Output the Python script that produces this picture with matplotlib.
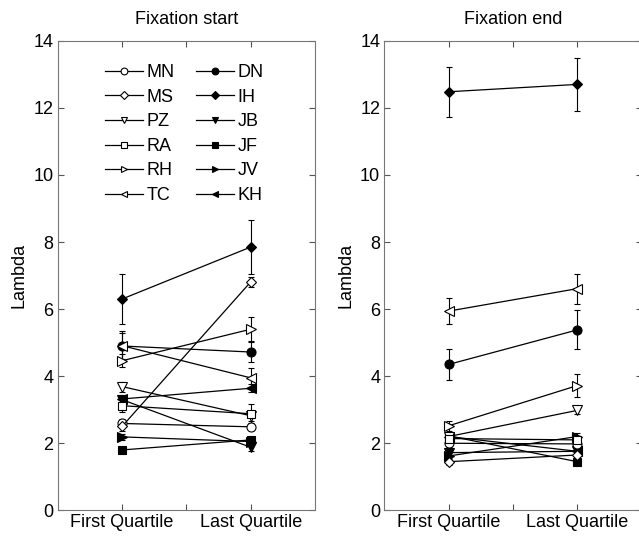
import numpy as np
import matplotlib
matplotlib.use("Agg")
import matplotlib.pyplot as plt

plt.rcParams['font.family'] = ['Liberation Sans', 'DejaVu Sans']

# subjects: open markers first, then filled markers
subjects = ['MN', 'MS', 'PZ', 'RA', 'RH', 'TC', 'DN', 'IH', 'JB', 'JF', 'JV', 'KH']
markers = ['o', 'D', 'v', 's', '>', '<', 'o', 'D', 'v', 's', '>', '<']
filled = [False] * 6 + [True] * 6
quartiles = ['First Quartile', 'Last Quartile']

# Fixation start: [first, last]
start_vals = {
    'MN': [2.59, 2.49], 'MS': [2.50, 6.81], 'PZ': [3.69, 2.82], 'RA': [3.12, 2.88],
    'RH': [4.46, 5.40], 'TC': [4.91, 3.95], 'DN': [4.90, 4.72], 'IH': [6.30, 7.85],
    'JB': [3.30, 1.88], 'JF': [1.80, 2.10], 'JV': [2.19, 2.05], 'KH': [3.32, 3.64],
}
start_err = {
    'MN': [0.12, 0.10], 'MS': [0.12, 0.15], 'PZ': [0.15, 0.15], 'RA': [0.18, 0.30],
    'RH': [0.20, 0.35], 'TC': [0.45, 0.30], 'DN': [0.40, 0.30], 'IH': [0.75, 0.80],
    'JB': [0.12, 0.10], 'JF': [0.10, 0.10], 'JV': [0.10, 0.10], 'KH': [0.12, 0.12],
}

# Fixation end: [first, last]
end_vals = {
    'MN': [2.00, 1.98], 'MS': [1.45, 1.65], 'PZ': [2.20, 2.98], 'RA': [2.14, 2.10],
    'RH': [2.52, 3.72], 'TC': [5.94, 6.61], 'DN': [4.35, 5.38], 'IH': [12.48, 12.70],
    'JB': [1.72, 1.76], 'JF': [2.22, 1.45], 'JV': [1.62, 2.20], 'KH': [2.20, 1.76],
}
end_err = {
    'MN': [0.10, 0.10], 'MS': [0.10, 0.10], 'PZ': [0.10, 0.12], 'RA': [0.10, 0.12],
    'RH': [0.15, 0.33], 'TC': [0.38, 0.45], 'DN': [0.45, 0.58], 'IH': [0.75, 0.80],
    'JB': [0.10, 0.10], 'JF': [0.10, 0.10], 'JV': [0.10, 0.10], 'KH': [0.10, 0.10],
}

yticks = [0, 2, 4, 6, 8, 10, 12, 14]


def draw_panel(ax, vals, errs, title, legend=False):
    x = [1, 2]
    handles = []
    for name, m, f in zip(subjects, markers, filled):
        fc = 'black' if f else 'white'
        ax.errorbar(x, vals[name], yerr=errs[name], fmt='none', ecolor='black',
                    elinewidth=0.8, capsize=2, capthick=0.8, zorder=2)
        # open markers drawn on top of filled ones
        h, = ax.plot(x, vals[name], color='black', linewidth=0.9, marker=m,
                     markersize=6.5 if m not in ('D', 's') else 5.5,
                     markerfacecolor=fc, markeredgecolor='black',
                     markeredgewidth=0.8, label=name, zorder=3 if f else 4)
        handles.append(h)
    ax.set_xlim(0.5, 2.5)
    ax.set_ylim(0, 14)
    ax.set_xticks([1, 1.5, 2])
    ax.set_xticklabels([quartiles[0], '', quartiles[1]], fontsize=13)
    ax.set_yticks(yticks)
    ax.set_yticklabels([str(t) for t in yticks], fontsize=13)
    ax.tick_params(direction='in', top=True, right=True, length=4, width=0.8,
                   color='#555555', pad=3)
    for s in ax.spines.values():
        s.set_color('#777777')
        s.set_linewidth(0.8)
    ax.set_ylabel('Lambda', fontsize=13, labelpad=4)
    ax.set_title(title, fontsize=13, pad=12)
    if legend:
        ax.legend(handles=handles, ncol=2, loc='upper left',
                  bbox_to_anchor=(0.12, 0.985), frameon=False, fontsize=13,
                  markerscale=0.75, handlelength=2.1, handletextpad=0.2,
                  columnspacing=1.2, labelspacing=0.42)


fig = plt.figure(figsize=(6.39, 5.36), dpi=100)
ax1 = fig.add_axes([0.0903, 0.0479, 0.4027, 0.876])
ax2 = fig.add_axes([0.6014, 0.0479, 0.4027, 0.876])

draw_panel(ax1, start_vals, start_err, 'Fixation start', legend=True)
draw_panel(ax2, end_vals, end_err, 'Fixation end')

fig.savefig('out.png', dpi=100)
